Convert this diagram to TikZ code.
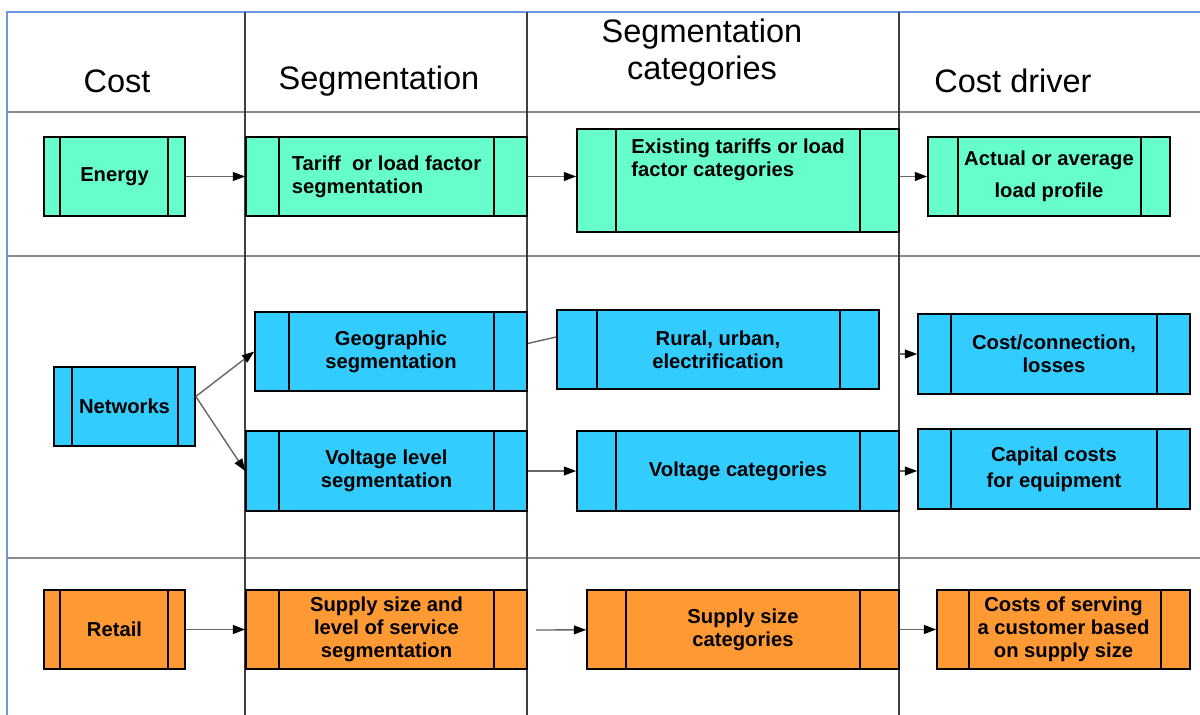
\documentclass[tikz,border=0pt]{standalone}
\usepackage{fontspec}
\setmainfont{Liberation Sans}
\usetikzlibrary{arrows.meta, calc}

\definecolor{energy}{RGB}{102,255,204}
\definecolor{network}{RGB}{51,204,255}
\definecolor{retail}{RGB}{255,153,51}
\definecolor{frame}{RGB}{110,150,220}

\tikzset{
  cbox/.style={draw, line width=0.9pt, inner sep=0pt, align=center,
    font=\bfseries\fontsize{11.5}{13}\selectfont},
  bars/.style 2 args={path picture={
      \draw[line width=0.8pt] ($(path picture bounding box.north west)+(#1,0)$) -- ($(path picture bounding box.south west)+(#1,0)$);
      \draw[line width=0.8pt] ($(path picture bounding box.north east)-(#2,0)$) -- ($(path picture bounding box.south east)-(#2,0)$);}},
  flow/.style={draw=black!60, line width=0.8pt, -{Triangle[length=7pt,width=5pt,black]}},
  head/.style={font=\fontsize{18.5}{21}\selectfont, align=center},
}

\begin{document}
\begin{tikzpicture}[x=0.02cm, y=-0.02cm]

  \useasboundingbox (0,0) rectangle (1200,715);

  % Grid of the table
  \draw[frame, line width=1pt] (7,715) -- (7,12) -- (1200,12);
  \foreach \y in {112,256,558}
    \draw[black!45, line width=1.2pt] (7,\y) -- (1200,\y);
  \foreach \x in {245,527,899}
    \draw[black!75, line width=0.8pt] (\x,12) -- (\x,715);

  % Column heads
  \node[head] (hcost) at (117,81) {Cost};
  \node[head] (hseg) at (379,81) {Segmentation};
  \node[head] (hcat) at (702,53) {Segmentation\\categories};
  \node[head] (hdrv) at (1013,81) {Cost driver};

  % Energy row
  \node[cbox, fill=energy, bars={16}{17}, minimum width=2.82cm, minimum height=1.58cm] (energy) at (114.5,176.5) {Energy};
  \node[cbox, fill=energy, bars={33}{33}, minimum width=5.62cm, minimum height=1.58cm, align=left] (tariff) at (386.5,176.5) {Tariff\ \ or load factor\\segmentation\hspace*{0.3cm}};
  \node[cbox, fill=energy, bars={39}{39}, minimum width=6.44cm, minimum height=2.06cm, align=left] (exist) at (738,180.5) {Existing tariffs or load\\factor categories\\[13pt]~};
  \node[cbox, fill=energy, bars={30}{29}, minimum width=4.84cm, minimum height=1.58cm] (actual) at (1049,176.5) {Actual or average\\[5pt]load profile};

  % Networks row
  \node[cbox, fill=network, bars={18}{17}, minimum width=2.82cm, minimum height=1.58cm] (net) at (124.5,406.5) {Networks};
  \node[cbox, fill=network, bars={34}{33}, minimum width=5.44cm, minimum height=1.58cm] (geo) at (391,351.5) {Geographic\\segmentation};
  \node[cbox, fill=network, bars={40}{39}, minimum width=6.44cm, minimum height=1.58cm] (rural) at (718,349.5) {Rural, urban,\\electrification};
  \node[cbox, fill=network, bars={33}{33}, minimum width=5.44cm, minimum height=1.6cm] (cconn) at (1054,354) {Cost/connection,\\losses};
  \node[cbox, fill=network, bars={33}{33}, minimum width=5.62cm, minimum height=1.6cm] (volt) at (386.5,471) {Voltage level\\segmentation};
  \node[cbox, fill=network, bars={39}{39}, minimum width=6.44cm, minimum height=1.6cm] (vcat) at (738,471) {Voltage categories};
  \node[cbox, fill=network, bars={33}{33}, minimum width=5.44cm, minimum height=1.6cm] (cap) at (1054,469) {Capital costs\\[2pt]for equipment};

  % Retail row
  \node[cbox, fill=retail, bars={16}{17}, minimum width=2.82cm, minimum height=1.58cm] (retail) at (114.5,629.5) {Retail};
  \node[cbox, fill=retail, bars={33}{33}, minimum width=5.62cm, minimum height=1.58cm] (supply) at (386.5,629.5) {Supply size and\\level of service\\segmentation};
  \node[cbox, fill=retail, bars={39}{39}, minimum width=6.24cm, minimum height=1.58cm] (supcat) at (743,629.5) {Supply size\\categories};
  \node[cbox, fill=retail, bars={32}{29}, minimum width=5.06cm, minimum height=1.58cm] (costs) at (1063.5,629.5) {Costs of serving\\a customer based\\on supply size};

  % Connectors
  \coordinate (rc) at (899,354);
  \coordinate (sc) at (536,630);

  \draw[flow] (energy) -- (tariff);
  \draw[flow] (tariff.east) -- (tariff.east -| exist.west);
  \draw[flow] (actual.west -| exist.east) -- (actual.west);

  \draw[flow] ([yshift=0.2cm]net.east) -- (geo.west);
  \draw[flow] ([yshift=0.2cm]net.east) -- (volt.west);
  \draw[black!60, line width=0.8pt] ([yshift=0.16cm]geo.east) -- ([yshift=0.25cm]rural.west);
  \draw[flow] (rc) -- (cconn);
  \draw[flow] (volt) -- (vcat);
  \draw[flow] (vcat.east) -- (vcat.east -| cap.west);

  \draw[flow] (retail) -- (supply);
  \draw[flow] (sc) -- (supcat);
  \draw[flow] (supcat) -- (costs);

\end{tikzpicture}
\end{document}
